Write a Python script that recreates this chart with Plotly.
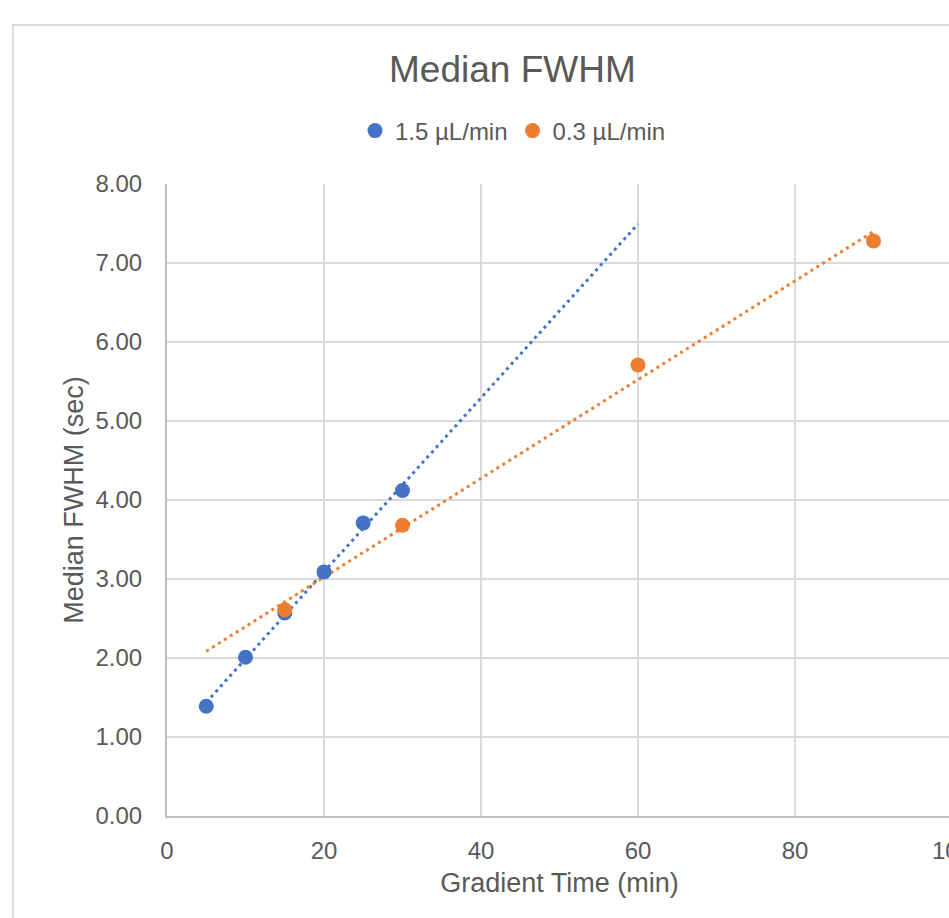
import numpy as np
import plotly.graph_objects as go

# ---- data ----
x_fast = [5, 10, 15, 20, 25, 30]
y_fast = [1.39, 2.01, 2.57, 3.09, 3.71, 4.12]
x_slow = [15, 30, 60, 90]
y_slow = [2.61, 3.68, 5.71, 7.28]
name_fast = "1.5 µL/min"
name_slow = "0.3 µL/min"
x_ticks = [0, 20, 40, 60, 80, 100]
y_ticks = [0, 1, 2, 3, 4, 5, 6, 7, 8]

# trendline extents (Excel linear trendline with forecast)
trend_fast_span = (5, 60)
trend_slow_span = (5, 90)

BLUE = "#4472C4"
ORANGE = "#ED7D31"
GREY_TXT = "#595959"
GRID = "#D9D9D9"
FONT = "Liberation Sans, Arial, sans-serif"


def trend(xs, ys, span):
    m, b = np.polyfit(xs, ys, 1)
    tx = np.array(span, dtype=float)
    return tx, m * tx + b


fig = go.Figure()

tx, ty = trend(x_fast, y_fast, trend_fast_span)
fig.add_trace(go.Scatter(x=tx, y=ty, mode="lines", showlegend=False, hoverinfo="skip",
                         line=dict(color=BLUE, width=3, dash="3px,4px")))
tx, ty = trend(x_slow, y_slow, trend_slow_span)
fig.add_trace(go.Scatter(x=tx, y=ty, mode="lines", showlegend=False, hoverinfo="skip",
                         line=dict(color=ORANGE, width=3, dash="3px,4px")))

fig.add_trace(go.Scatter(x=x_fast, y=y_fast, mode="markers", name=name_fast,
                         marker=dict(color=BLUE, size=15, line=dict(width=0))))
fig.add_trace(go.Scatter(x=x_slow, y=y_slow, mode="markers", name=name_slow,
                         marker=dict(color=ORANGE, size=15, line=dict(width=0))))

W, H = 1030, 918
L, T, R_EDGE, B_EDGE = 167, 184, 952, 816
pw, ph = R_EDGE - L, B_EDGE - T


def px(xp):
    return (xp - L) / pw


def py(yp):
    return (B_EDGE - yp) / ph


fig.update_layout(
    width=W, height=H,
    margin=dict(l=L, r=W - R_EDGE, t=T, b=H - B_EDGE, autoexpand=False),
    paper_bgcolor="white", plot_bgcolor="white",
    font=dict(family=FONT, color=GREY_TXT, size=24),
    showlegend=True,
    legend=dict(orientation="h", x=px(513), y=py(131), xanchor="center", yanchor="middle",
                font=dict(size=24, color=GREY_TXT), itemwidth=30, tracegroupgap=0,
                bgcolor="rgba(0,0,0,0)"),
    annotations=[dict(text="Median FWHM", xref="paper", yref="paper",
                      x=px(512.5), y=py(70), xanchor="center", yanchor="middle",
                      showarrow=False, font=dict(size=37, color=GREY_TXT, family=FONT))],
    shapes=[dict(type="rect", xref="paper", yref="paper",
                 x0=px(13), x1=px(1015), y0=py(940), y1=py(25),
                 line=dict(color="#D9D9D9", width=2), fillcolor="rgba(0,0,0,0)", layer="below")],
)

fig.update_xaxes(range=[0, 100], tickvals=x_ticks, ticktext=[str(v) for v in x_ticks],
                 showgrid=True, gridcolor=GRID, gridwidth=2,
                 showline=True, linecolor="#BFBFBF", linewidth=2, zeroline=False,
                 ticks="", ticklabelstandoff=12,
                 tickfont=dict(size=24, color=GREY_TXT),
                 title=dict(text="Gradient Time (min)", font=dict(size=27, color=GREY_TXT), standoff=10))
fig.update_yaxes(range=[0, 8], tickvals=y_ticks, tickformat=".2f",
                 showgrid=True, gridcolor=GRID, gridwidth=2,
                 showline=True, linecolor="#BFBFBF", linewidth=2, zeroline=False,
                 ticks="", ticklabelstandoff=18,
                 tickfont=dict(size=24, color=GREY_TXT),
                 title=dict(text="Median FWHM (sec)", font=dict(size=27, color=GREY_TXT), standoff=4))

fig.write_html("out.html", config={"displayModeBar": False},
               post_script="document.body.style.margin='0';document.body.style.overflow='hidden';")
